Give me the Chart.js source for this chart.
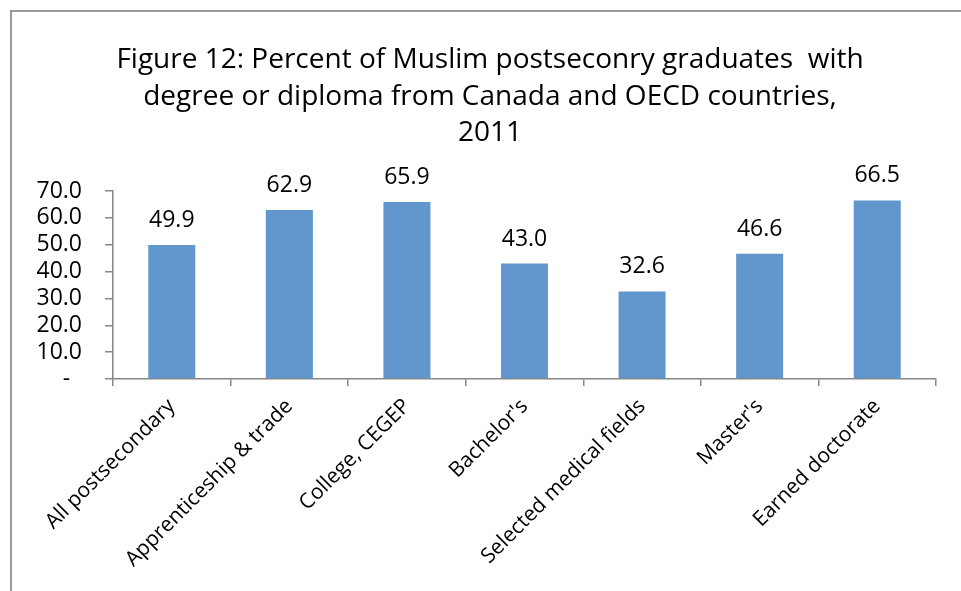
<!DOCTYPE html>
<html>
<head>
<meta charset="utf-8">
<script src="https://cdn.jsdelivr.net/npm/chart.js@4.4.1/dist/chart.umd.min.js"></script>
<style>
  html, body { margin: 0; padding: 0; background: #fff; overflow: hidden; }
  #wrap { position: relative; width: 961px; height: 591px; }
  #frame {
    position: absolute; left: 10px; top: 10px; width: 1000px; height: 700px;
    border-left: 2px solid #9a9a9a; border-top: 2px solid #9a9a9a;
  }
  #chart { position: absolute; left: 0; top: 0; }
</style>
</head>
<body>
<div id="wrap">
  <div id="frame"></div>
  <canvas id="chart" width="961" height="591"></canvas>
</div>
<script>
// Chart data
const titleLines = [
  "Figure 12: Percent of Muslim postseconry graduates  with",
  "degree or diploma from Canada and OECD countries,",
  "2011"
];
const categories = [
  "All postsecondary",
  "Apprenticeship & trade",
  "College, CEGEP",
  "Bachelor's",
  "Selected medical fields",
  "Master's",
  "Earned doctorate"
];
const percentValues = [49.9, 62.9, 65.9, 43.0, 32.6, 46.6, 66.5];
const yTicks = [0, 10, 20, 30, 40, 50, 60, 70];

const fontFamily = "'Open Sans', Lato, 'Liberation Sans', sans-serif";
const axisColor = "#868686";

// Three-line heading, centred a little right of the canvas middle
const headingBlock = {
  id: "headingBlock",
  afterDraw(chart) {
    const ctx = chart.ctx;
    ctx.save();
    ctx.font = "28px " + fontFamily;
    ctx.fillStyle = "#000";
    ctx.textAlign = "center";
    ctx.textBaseline = "alphabetic";
    titleLines.forEach((line, i) => {
      ctx.fillText(line, 490, 68 + i * 36.5);
    });
    ctx.restore();
  }
};

// Value labels above each bar
const barValueLabels = {
  id: "barValueLabels",
  afterDatasetsDraw(chart) {
    const ctx = chart.ctx;
    const meta = chart.getDatasetMeta(0);
    ctx.save();
    ctx.font = "23px " + fontFamily;
    ctx.fillStyle = "#000";
    ctx.textAlign = "center";
    ctx.textBaseline = "alphabetic";
    meta.data.forEach((bar, i) => {
      ctx.fillText(percentValues[i].toFixed(1), bar.x, bar.y - 18);
    });
    ctx.restore();
  }
};

new Chart(document.getElementById("chart"), {
  type: "bar",
  data: {
    labels: categories,
    datasets: [{
      data: percentValues,
      backgroundColor: "#6197cc",
      borderWidth: 0,
      categoryPercentage: 1,
      barPercentage: 0.4
    }]
  },
  options: {
    responsive: false,
    animation: false,
    devicePixelRatio: 1,
    layout: { padding: { left: 0, right: 25, top: 191, bottom: 0 } },
    plugins: {
      legend: { display: false },
      tooltip: { enabled: false },
      title: { display: false }
    },
    scales: {
      x: {
        grid: {
          display: true,
          offset: true,
          drawOnChartArea: false,
          drawTicks: true,
          tickLength: 7,
          color: axisColor,
          lineWidth: 1.5
        },
        border: { display: true, color: axisColor, width: 1.5 },
        ticks: {
          color: "#000",
          font: { family: fontFamily, size: 21 },
          minRotation: 45,
          maxRotation: 45,
          autoSkip: false,
          padding: 8
        },
        afterFit(scale) { scale.height = 212; }
      },
      y: {
        min: 0,
        max: 70,
        afterBuildTicks(scale) {
          scale.ticks = yTicks.map(v => ({ value: v }));
        },
        grid: {
          display: true,
          drawOnChartArea: false,
          drawTicks: true,
          tickLength: 8,
          color: axisColor,
          lineWidth: 1.5
        },
        border: { display: true, color: axisColor, width: 1.5 },
        ticks: {
          color: "#000",
          font: { family: fontFamily, size: 23 },
          padding: 23,
          autoSkip: false,
          callback: v => (v === 0 ? "-  " : v.toFixed(1))
        },
        afterFit(scale) { scale.width = 113; }
      }
    }
  },
  plugins: [barValueLabels, headingBlock]
});
</script>
</body>
</html>
